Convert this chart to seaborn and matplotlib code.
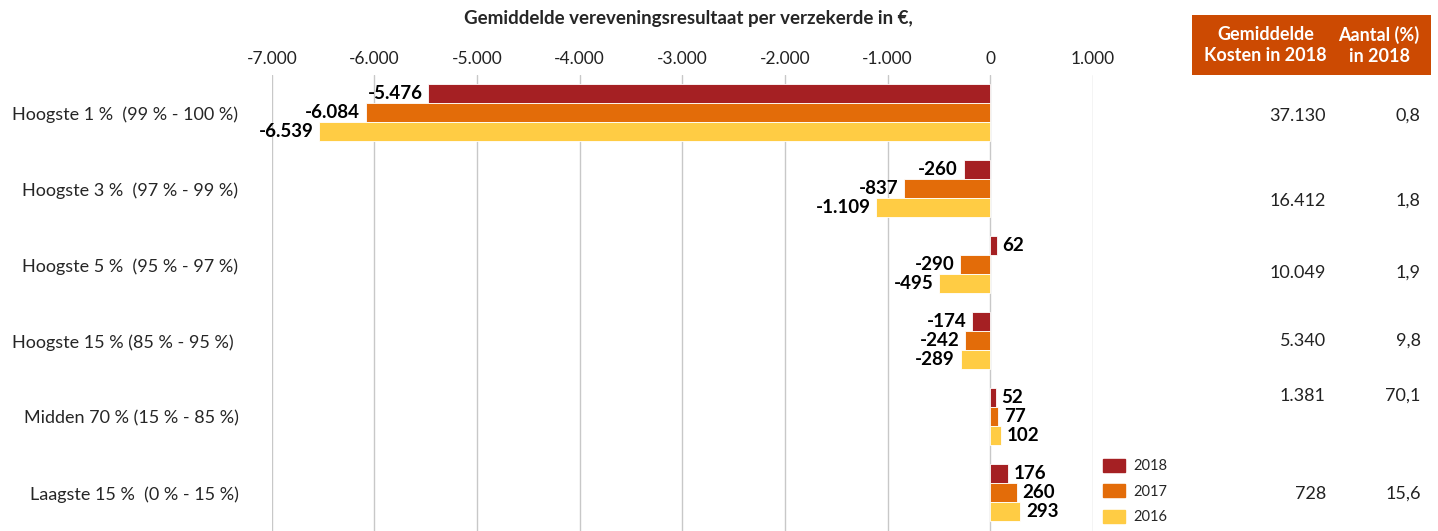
"""Vereveningsresultaat per kostengroep, 2016-2018."""

import matplotlib
matplotlib.use('Agg')
import matplotlib.pyplot as plt
import matplotlib.patches as mpatches
import pandas as pd
import seaborn as sns

# data
categories = [
    'Hoogste 1 %  (99 % - 100 %)',
    'Hoogste 3 %  (97 % - 99 %)',
    'Hoogste 5 %  (95 % - 97 %)',
    'Hoogste 15 % (85 % - 95 %) ',
    'Midden 70 % (15 % - 85 %)',
    'Laagste 15 %  (0 % - 15 %)',
]
years = ['2018', '2017', '2016']
res_2018 = [-5476, -260, 62, -174, 52, 176]
res_2017 = [-6084, -837, -290, -242, 77, 260]
res_2016 = [-6539, -1109, -495, -289, 102, 293]
kosten_2018 = ['37.130', '16.412', '10.049', '5.340', '1.381', '728']
aantal_2018 = ['0,8', '1,8', '1,9', '9,8', '70,1', '15,6']
x_ticks = [-7000, -6000, -5000, -4000, -3000, -2000, -1000, 0, 1000]

colors = {'2018': '#A52023', '2017': '#E36C09', '2016': '#FFCC44'}


def fmt_nl(v):
    return f'{v:,.0f}'.replace(',', '.')


df = pd.DataFrame({
    'categorie': categories * 3,
    'jaar': ['2018'] * 6 + ['2017'] * 6 + ['2016'] * 6,
    'resultaat': res_2018 + res_2017 + res_2016,
})

sns.set_style('white')
plt.rcParams['font.family'] = ['Lato', 'DejaVu Sans']

fig = plt.figure(figsize=(14.38, 5.31), dpi=100)
ax = fig.add_axes([0.189, 0.0, 0.571, 0.859])

sns.barplot(data=df, y='categorie', x='resultaat', hue='jaar',
            hue_order=years, palette=colors, orient='h', width=0.75,
            saturation=1, errorbar=None, edgecolor='white', linewidth=0.6,
            legend=False, ax=ax)

for cont in ax.containers:
    ax.bar_label(cont, labels=[fmt_nl(b.get_width()) for b in cont],
                 padding=4, fontsize=13.5, fontweight='bold', color='black')

ax.set_xlim(-7000, 1000)
ax.set_ylim(5.5, -0.5)
ax.set_xticks(x_ticks)
ax.set_xticklabels([fmt_nl(t) for t in x_ticks], fontsize=12.5)
ax.xaxis.tick_top()
ax.tick_params(axis='x', length=0, pad=6, colors='#222222')
ax.tick_params(axis='y', length=0, pad=24, labelsize=13)
ax.grid(axis='x', color='#C8C8C8', linewidth=1)
ax.set_axisbelow(True)
for s in ax.spines.values():
    s.set_visible(False)
ax.set_xlabel('')
ax.set_ylabel('')

fig.text(0.479, 0.966, 'Gemiddelde vereveningsresultaat per verzekerde in €,',
         ha='center', va='center', fontsize=13.5, fontweight='bold')

# tabel rechts
header = mpatches.Rectangle((0.829, 0.859), 0.166, 0.113, transform=fig.transFigure,
                            facecolor='#CC4A02', edgecolor='none')
fig.patches.append(header)
fig.text(0.880, 0.915, 'Gemiddelde\nKosten in 2018', ha='center', va='center',
         color='white', fontsize=13, fontweight='bold', linespacing=1.3)
fig.text(0.959, 0.915, 'Aantal (%)\nin 2018', ha='center', va='center',
         color='white', fontsize=13, fontweight='bold', linespacing=1.3)

row_y = [116, 201, 273, 341, 396, 494]
for k, a, y in zip(kosten_2018, aantal_2018, row_y):
    fy = 1 - y / 531
    fig.text(0.922, fy, k, ha='right', va='center', fontsize=13, color='#222222')
    fig.text(0.988, fy, a, ha='right', va='center', fontsize=13, color='#222222')

handles = [mpatches.Patch(color=colors[y], label=y) for y in years]
fig.legend(handles=handles, loc='lower left', bbox_to_anchor=(0.758, -0.012),
           frameon=False, fontsize=10.5, handlelength=1.5, handleheight=1.0,
           labelspacing=0.75, handletextpad=0.6)

fig.savefig('out.png', dpi=100)
